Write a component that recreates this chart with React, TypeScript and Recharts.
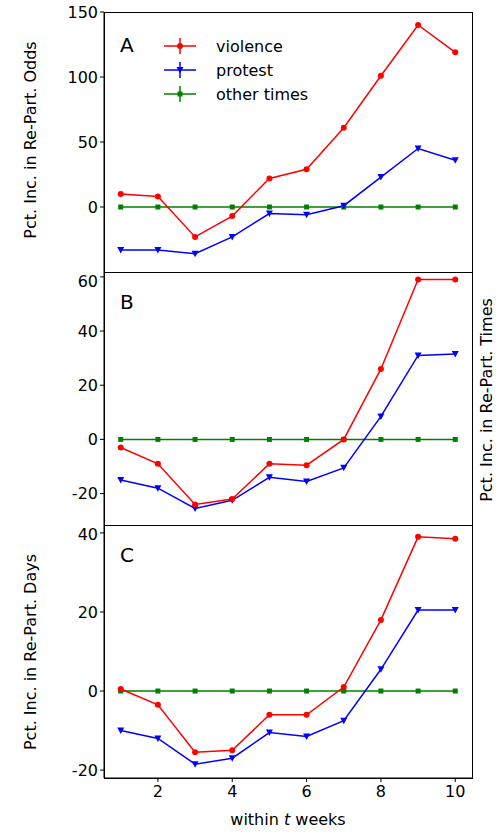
import { LineChart, Line, XAxis, YAxis } from "recharts";

const weeks = [1, 2, 3, 4, 5, 6, 7, 8, 9, 10];
const oddsViolence = [10, 8, -23, -7, 22, 29, 61, 101, 140, 119];
const oddsProtest = [-33, -33, -36, -23, -5, -6, 1, 23, 45, 36];
const timesViolence = [-3, -9, -24, -22, -9, -9.5, 0, 26, 59, 59];
const timesProtest = [-15, -18, -25.5, -22.5, -14, -15.5, -10.5, 8.5, 31, 31.5];
const daysViolence = [0.5, -3.5, -15.5, -15, -6, -6, 1, 18, 39, 38.5];
const daysProtest = [-10, -12, -18.5, -17, -10.5, -11.5, -7.5, 5.5, 20.5, 20.5];
const xTicks = [2, 4, 6, 8, 10];

const RED = "#ff0000";
const BLUE = "#0000ff";
const GREEN = "#008000";
const font = "DejaVu Sans, sans-serif";

const build = (v: number[], p: number[]) =>
  weeks.map((w, i) => ({ w, violence: v[i], protest: p[i], other: 0 }));

const Circle = (props: any) => <circle cx={props.cx} cy={props.cy} r={3} fill={RED} />;
const Tri = (props: any) => (
  <polygon
    points={`${props.cx - 3.5},${props.cy - 3} ${props.cx + 3.5},${props.cy - 3} ${props.cx},${props.cy + 3.5}`}
    fill={BLUE}
  />
);
const Sq = (props: any) => <rect x={props.cx - 2.5} y={props.cy - 2.5} width={5} height={5} fill={GREEN} />;

function Panel(props: {
  data: any[];
  top: number;
  height: number;
  domain: [number, number];
  ticks: number[];
  xLabels: boolean;
  letter: string;
}) {
  const xh = props.xLabels ? 59 : 0;
  const tickStyle = { fontSize: 16, fill: "#000", fontFamily: font };
  return (
    <div style={{ position: "absolute", left: 0, top: props.top }}>
      <LineChart
        width={500}
        height={props.height}
        data={props.data}
        margin={{ top: props.top === 0 ? 12 : 0, right: 28, bottom: 0, left: 0 }}
      >
        <XAxis
          dataKey="w"
          type="number"
          domain={[0.55, 10.45]}
          ticks={xTicks}
          height={xh}
          stroke="#000"
          tick={props.xLabels ? tickStyle : false}
          tickSize={4}
          tickMargin={4}
          allowDataOverflow
        />
        <YAxis
          width={104}
          domain={props.domain}
          ticks={props.ticks}
          stroke="#000"
          tick={tickStyle}
          tickSize={4}
          allowDataOverflow
        />
        <Line dataKey="other" stroke={GREEN} strokeWidth={1.5} dot={<Sq />} isAnimationActive={false} />
        <Line dataKey="protest" stroke={BLUE} strokeWidth={1.5} dot={<Tri />} isAnimationActive={false} />
        <Line dataKey="violence" stroke={RED} strokeWidth={1.5} dot={<Circle />} isAnimationActive={false} />
      </LineChart>
      <div
        style={{
          position: "absolute",
          left: 104,
          top: props.top === 0 ? 12 : 0,
          width: 367,
          height: props.height - (props.top === 0 ? 12 : 0) - xh - 1,
          border: "1px solid #000",
          pointerEvents: "none",
        }}
      />
      <div style={{ position: "absolute", left: 120, top: props.top === 0 ? 33 : 18, fontSize: 20, fontFamily: font }}>
        {props.letter}
      </div>
    </div>
  );
}

const vLabel = (text: string, cx: number, cy: number) => (
  <div
    style={{
      position: "absolute",
      left: cx,
      top: cy,
      transform: "translate(-50%,-50%) rotate(-90deg)",
      whiteSpace: "nowrap",
      fontSize: 16,
      fontFamily: font,
    }}
  >
    {text}
  </div>
);

const legendItems = [
  { label: "violence", color: RED, mark: "c" },
  { label: "protest", color: BLUE, mark: "t" },
  { label: "other times", color: GREEN, mark: "s" },
];

export default function App() {
  return (
    <div style={{ position: "fixed", left: 0, top: 0, width: 500, height: 837, background: "#fff" }}>
      <Panel data={build(oddsViolence, oddsProtest)} top={0} height={272} domain={[-50, 150]} ticks={[0, 50, 100, 150]} xLabels={false} letter="A" />
      <Panel data={build(timesViolence, timesProtest)} top={272} height={253} domain={[-31.6, 61.8]} ticks={[-20, 0, 20, 40, 60]} xLabels={false} letter="B" />
      <Panel data={build(daysViolence, daysProtest)} top={525} height={312} domain={[-22, 42]} ticks={[-20, 0, 20, 40]} xLabels={true} letter="C" />
      {vLabel("Pct. Inc. in Re-Part. Odds", 30, 140)}
      {vLabel("Pct. Inc. in Re-Part. Days", 30, 652)}
      {vLabel("Pct. Inc. in Re-Part. Times", 486, 400)}
      <div style={{ position: "absolute", left: 0, width: 500, top: 810, textAlign: "center", fontSize: 16, fontFamily: font, paddingLeft: 76, boxSizing: "border-box" }}>
        within <i>t</i> weeks
      </div>
      <div style={{ position: "absolute", left: 160, top: 34 }}>
        {legendItems.map((it) => (
          <div key={it.label} style={{ display: "flex", alignItems: "center", height: 24, fontFamily: font, fontSize: 16 }}>
            <svg width={40} height={20}>
              <line x1={4} x2={36} y1={10} y2={10} stroke={it.color} strokeWidth={1.5} />
              <line x1={20} x2={20} y1={2} y2={18} stroke={it.color} strokeWidth={1.5} />
              {it.mark === "c" && <circle cx={20} cy={10} r={3} fill={it.color} />}
              {it.mark === "t" && <polygon points="16.5,7 23.5,7 20,13.5" fill={it.color} />}
              {it.mark === "s" && <rect x={17.5} y={7.5} width={5} height={5} fill={it.color} />}
            </svg>
            <span style={{ marginLeft: 16 }}>{it.label}</span>
          </div>
        ))}
      </div>
    </div>
  );
}
